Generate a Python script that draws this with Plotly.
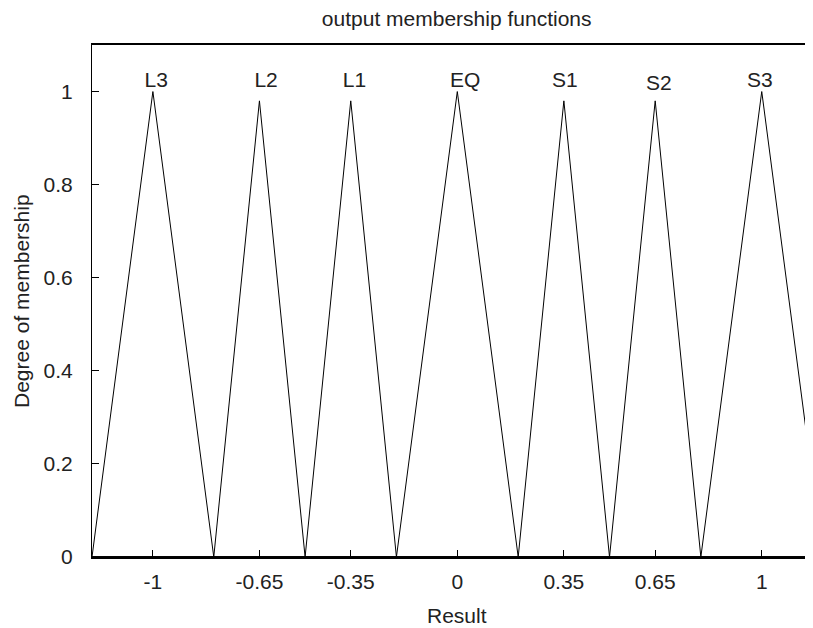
import plotly.graph_objects as go

# Membership functions (triangular): left foot, peak, right foot, peak height
mf_names = ["L3", "L2", "L1", "EQ", "S1", "S2", "S3"]
mf_left = [-1.2, -0.8, -0.5, -0.2, 0.2, 0.5, 0.8]
mf_peak_x = [-1.0, -0.65, -0.35, 0.0, 0.35, 0.65, 1.0]
mf_right = [-0.8, -0.5, -0.2, 0.2, 0.5, 0.8, 1.2]
mf_peak_y = [1.0, 0.98, 0.98, 1.0, 0.98, 0.98, 1.0]

# Label positions
label_x = [-0.989, -0.628, -0.338, 0.026, 0.353, 0.662, 0.994]
label_y = [1.022, 1.020, 1.020, 1.020, 1.020, 1.015, 1.022]

universe = [-1.2, 1.2]
x_tickvals = [-1, -0.65, -0.35, 0, 0.35, 0.65, 1]
x_ticktext = ["-1", "-0.65", "-0.35", "0", "0.35", "0.65", "1"]
y_tickvals = [0, 0.2, 0.4, 0.6, 0.8, 1.0]
y_ticktext = ["0", "0.2", "0.4", "0.6", "0.8", "1"]

FONT = "Liberation Sans, Arial, Helvetica, sans-serif"
TXT = "#222222"
FS = 21

fig = go.Figure()
for name, a, b, c, h in zip(mf_names, mf_left, mf_peak_x, mf_right, mf_peak_y):
    xs = [universe[0], a, b, c, universe[1]]
    ys = [0, 0, h, 0, 0]
    fig.add_trace(go.Scatter(x=xs, y=ys, mode="lines", name=name,
                             line=dict(color="black", width=1),
                             showlegend=False, hoverinfo="skip"))

fig.add_trace(go.Scatter(x=label_x, y=label_y, mode="text", text=mf_names,
                         textposition="middle center",
                         textfont=dict(family=FONT, size=FS, color=TXT),
                         cliponaxis=False, showlegend=False, hoverinfo="skip"))

# page has an 8px body margin: figure is sized/offset to compensate
W, H = 797, 620
fig.update_layout(
    width=W, height=H,
    margin=dict(l=84, r=0, t=37, b=71, autoexpand=False),
    paper_bgcolor="white", plot_bgcolor="white",
    font=dict(family=FONT, size=FS, color=TXT),
    title=dict(text="output membership functions", x=448.7 / W, xanchor="center",
               xref="container", y=1 - 11 / H, yanchor="middle", yref="container",
               font=dict(family=FONT, size=FS, color=TXT)),
    xaxis=dict(range=[-1.2, (805 - 457) / 304.7], tickvals=x_tickvals, ticktext=x_ticktext,
               ticks="inside", ticklen=7, tickcolor="black", tickwidth=1,
               showline=True, linecolor="black", linewidth=1.5, mirror=True,
               showgrid=False, zeroline=False, ticklabelstandoff=5,
               tickfont=dict(family=FONT, size=FS, color=TXT)),
    yaxis=dict(range=[0, 1.1], tickvals=y_tickvals, ticktext=y_ticktext,
               ticks="inside", ticklen=7, tickcolor="black", tickwidth=1,
               showline=True, linecolor="black", linewidth=1, mirror=False,
               showgrid=False, zeroline=False, ticklabelstandoff=14,
               tickfont=dict(family=FONT, size=FS, color=TXT)),
    annotations=[
        dict(text="Result", xref="x", x=0, yref="paper", y=0, yshift=-58,
             xanchor="center", yanchor="middle", showarrow=False,
             font=dict(family=FONT, size=FS, color=TXT)),
        dict(text="Degree of membership", xref="paper", x=0, xshift=-71,
             yref="paper", y=0.5, xanchor="center", yanchor="middle",
             textangle=-90, showarrow=False,
             font=dict(family=FONT, size=FS, color=TXT)),
    ],
)

fig.write_html("out.html")
